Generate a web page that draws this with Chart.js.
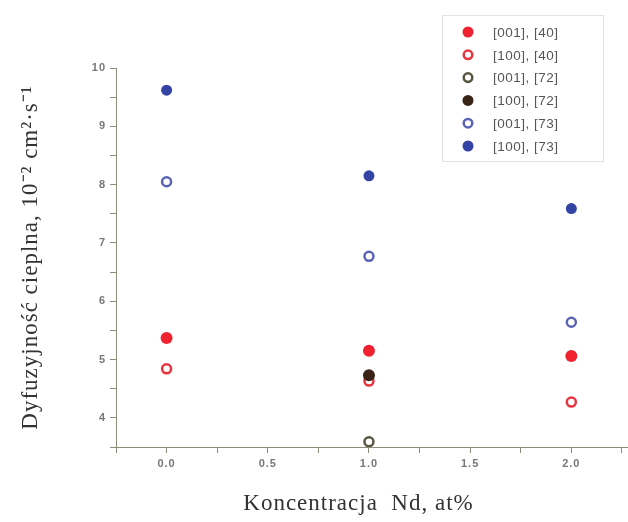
<!DOCTYPE html>
<html>
<head>
<meta charset="utf-8">
<script src="https://cdn.jsdelivr.net/npm/chart.js@4.4.1/dist/chart.umd.min.js"></script>
<style>
  html,body{margin:0;padding:0;background:#fff;}
  #wrap{width:628px;height:522px;position:relative;}
</style>
</head>
<body>
<div id="wrap"><canvas id="chart" width="628" height="522"></canvas></div>
<script>
// data
const concentration=[0,1,2];
const c001_40=[5.37,5.15,5.06];
const c100_40=[4.84,4.63,4.27];
const c001_72x=[1], c001_72=[3.59];
const c100_72x=[1], c100_72=[4.73];
const c001_73=[8.05,6.77,5.64];
const c100_73=[9.62,8.15,7.59];
const xTicks=[-0.25,0,0.25,0.5,0.75,1,1.25,1.5,1.75,2,2.25];
const yTicks=[3.5,4,4.5,5,5.5,6,6.5,7,7.5,8,8.5,9,9.5,10];

function pts(xs,ys){return xs.map((x,i)=>({x:x,y:ys[i]}));}

function ds(label,data,color,filled,r,order){
    return {
        label:label,
        data:data,
        showLine:false,
        pointRadius:r,
        pointHoverRadius:r,
        pointBorderWidth:filled?0:2.5,
        pointBackgroundColor:filled?color:'#fff',
        pointBorderColor:color,
        borderColor:color,
        backgroundColor:filled?color:'#fff',
        filled:filled,
        order:order||0
    };
}

// slightly spaced lettering like the scanned figure
const spacing={
    id:'spacing',
    beforeDraw(chart){chart.ctx.letterSpacing='1px';}
};

// legend box drawn on the canvas
const boxLegend={
    id:'boxLegend',
    afterDraw(chart){
        const c=chart.ctx;
        c.save();
        c.letterSpacing='0.5px';
        c.strokeStyle='#e2e2e2';
        c.lineWidth=1;
        c.strokeRect(442.5,15.5,161,146);
        c.font='13.5px "Liberation Sans", Arial, sans-serif';
        c.textBaseline='middle';
        chart.data.datasets.forEach((d,i)=>{
            const y=32+i*22.8;
            c.beginPath();
            if(d.filled){
                c.arc(468,y,5.5,0,Math.PI*2);
                c.fillStyle=d.pointBackgroundColor;
                c.fill();
            }else{
                c.arc(468,y,4.3,0,Math.PI*2);
                c.lineWidth=2.5;
                c.strokeStyle=d.pointBorderColor;
                c.stroke();
            }
            c.fillStyle='#555';
            c.fillText(d.label,493,y+1);
        });
        c.restore();
    }
};

new Chart(document.getElementById('chart'),{
    type:'scatter',
    data:{
        datasets:[
            ds('[001], [40]',pts(concentration,c001_40),'#f02230',true,6),
            ds('[100], [40]',pts(concentration,c100_40),'#e8343f',false,4.5),
            ds('[001], [72]',pts(c001_72x,c001_72),'#565640',false,4.5),
            ds('[100], [72]',pts(c100_72x,c100_72),'#3a2418',true,6,-1),
            ds('[001], [73]',pts(concentration,c001_73),'#5a64b4',false,4.5),
            ds('[100], [73]',pts(concentration,c100_73),'#3444a4',true,5.5)
        ]
    },
    plugins:[spacing,boxLegend],
    options:{
        responsive:false,
        animation:false,
        layout:{autoPadding:false,padding:{top:68,right:0,left:0,bottom:0}},
        plugins:{legend:{display:false},tooltip:{enabled:false}},
        scales:{
            x:{
                type:'linear',
                min:-0.25,
                max:2.28,
                afterBuildTicks(s){s.ticks=xTicks.map(v=>({value:v}));},
                afterFit(s){s.height=75;s.paddingRight=0;s.paddingLeft=0;},
                border:{color:'#8c8c78',width:1},
                grid:{drawOnChartArea:false,tickLength:6,tickColor:'#8c8c78'},
                ticks:{
                    autoSkip:false,
                    maxRotation:0,
                    padding:4,
                    color:'#777',
                    font:{family:'"Liberation Sans", Arial, sans-serif',size:11,weight:'bold'},
                    callback:v=>(Math.abs(v*2-Math.round(v*2))<1e-6&&v>=0)?v.toFixed(1):''
                },
                title:{
                    display:true,
                    text:'Koncentracja  Nd, at%    ',
                    color:'#333',
                    font:{family:'"Liberation Serif", "Times New Roman", serif',size:23},
                    padding:{top:10,bottom:4}
                }
            },
            y:{
                min:3.5,
                max:10,
                afterBuildTicks(s){s.ticks=yTicks.map(v=>({value:v}));},
                afterFit(s){s.width=116;s.paddingTop=0;s.paddingBottom=0;},
                border:{color:'#8c8c78',width:1},
                grid:{drawOnChartArea:false,tickLength:6,tickColor:'#8c8c78'},
                ticks:{
                    autoSkip:false,
                    padding:4,
                    color:'#777',
                    font:{family:'"Liberation Sans", Arial, sans-serif',size:11,weight:'bold'},
                    callback:v=>(Number.isInteger(v)&&v>=4)?String(v):''
                },
                title:{
                    display:true,
                    text:'Dyfuzyjność cieplna, 10⁻² cm²·s⁻¹',
                    color:'#333',
                    font:{family:'"Liberation Serif", "Times New Roman", serif',size:23},
                    padding:{top:17,bottom:10}
                }
            }
        }
    }
});
</script>
</body>
</html>
